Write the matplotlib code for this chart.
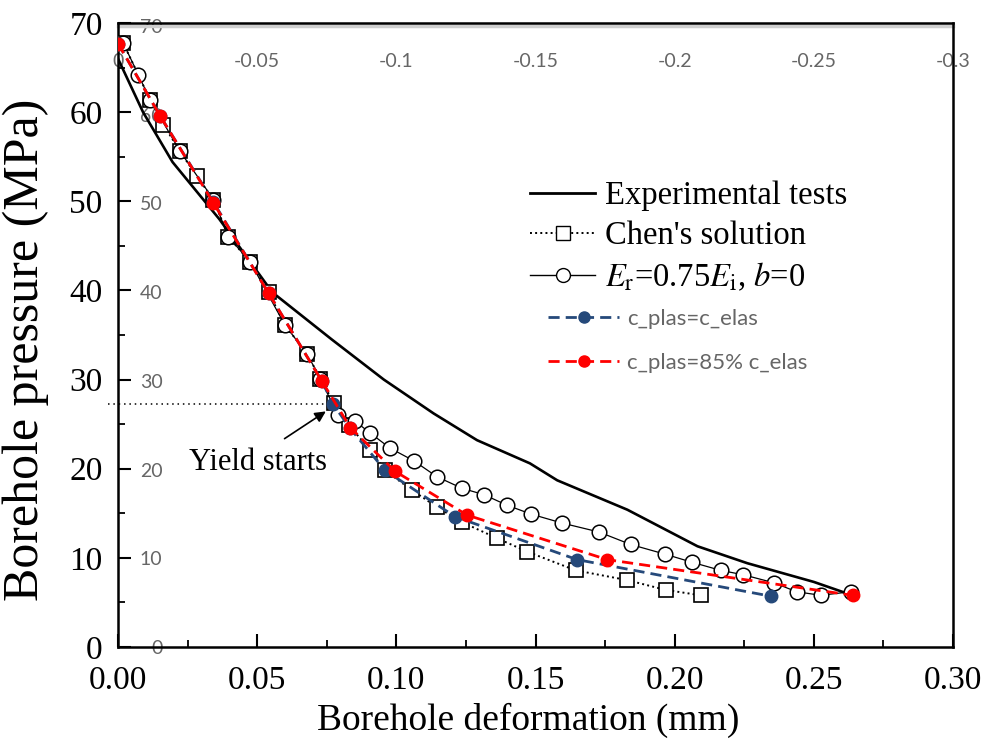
import numpy as np
import matplotlib.pyplot as plt
from matplotlib.lines import Line2D

plt.rcParams['font.family'] = 'Liberation Serif'
plt.rcParams['mathtext.fontset'] = 'stix'

# experimental curve
exp_x = [0.0, 0.009, 0.0196, 0.0364, 0.0554, 0.0768, 0.0955, 0.1134, 0.129,
         0.148, 0.1578, 0.183, 0.2082, 0.2261, 0.25, 0.262]
exp_y = [66.0, 60.0, 54.4, 48.0, 39.8, 34.5, 30.0, 26.2, 23.2,
         20.6, 18.7, 15.4, 11.3, 9.4, 7.3, 6.0]

# Chen's solution (squares)
chen_x = [0.0018, 0.0115, 0.0163, 0.0223, 0.0283, 0.0343, 0.0397, 0.0475, 0.0541,
          0.0600, 0.0679, 0.0727, 0.0775, 0.0829, 0.0906, 0.0960, 0.1056, 0.1146,
          0.1236, 0.1362, 0.1470, 0.1644, 0.1830, 0.1968, 0.2094]
chen_y = [67.8, 61.4, 58.6, 55.6, 52.8, 50.2, 46.0, 43.2, 39.8,
          36.1, 32.9, 30.1, 27.4, 24.9, 22.1, 19.8, 17.6, 15.7,
          14.0, 12.2, 10.7, 8.6, 7.5, 6.4, 5.8]

# Er = 0.75 Ei, b = 0 (open circles)
er_x = [0.0018, 0.0073, 0.0115, 0.0223, 0.0343, 0.0397, 0.0475, 0.0600, 0.0679,
        0.0727, 0.0790, 0.0853, 0.0906, 0.0978, 0.1062, 0.1146, 0.1236, 0.1314,
        0.1398, 0.1485, 0.1596, 0.1728, 0.1842, 0.1967, 0.2063, 0.2165, 0.2247,
        0.2357, 0.2438, 0.2525, 0.2633]
er_y = [67.8, 64.2, 61.4, 55.6, 50.2, 46.0, 43.2, 36.1, 32.9,
        30.1, 26.0, 25.3, 24.0, 22.3, 20.9, 19.1, 17.8, 17.1,
        15.9, 14.9, 13.9, 12.9, 11.5, 10.4, 9.5, 8.6, 8.1,
        7.2, 6.2, 5.8, 6.2]

# c_plas = c_elas
c1_x = [0.0, 0.0151, 0.0343, 0.0541, 0.0733, 0.0772, 0.0832, 0.0960, 0.1212, 0.1650, 0.2345]
c1_y = [67.7, 59.6, 49.9, 39.7, 29.8, 27.3, 24.6, 19.8, 14.6, 9.8, 5.7]

# c_plas = 85% c_elas
c2_x = [0.0, 0.0151, 0.0343, 0.0541, 0.0733, 0.0835, 0.0996, 0.1254, 0.1758, 0.2639]
c2_y = [67.7, 59.6, 49.8, 39.7, 29.8, 24.6, 19.7, 14.8, 9.8, 5.8]

yield_x = 0.0772
yield_p = 27.3

x_ticks = [0.0, 0.05, 0.10, 0.15, 0.20, 0.25, 0.30]
y_ticks = [0, 10, 20, 30, 40, 50, 60, 70]
top_ticks = [0, -0.05, -0.1, -0.15, -0.2, -0.25, -0.3]
top_labels = ['0', '-0.05', '-0.1', '-0.15', '-0.2', '-0.25', '-0.3']

blue = '#25497a'
red = '#ff0000'
grey = '#666666'
dash = (0, (4, 2.2))

fig = plt.figure(figsize=(9.88, 7.52), dpi=100)
L, B, W, H = 118/988, 105/752, 835/988, 624/752

# the grey overlay axis (second chart pasted on top)
ax2 = fig.add_axes([L, B, W, H - 3/752])
ax2.set_xlim(0, -0.3)
ax2.set_ylim(0, 70)
ax2.xaxis.tick_top()
ax2.set_xticks(top_ticks, top_labels)
ax2.set_yticks(y_ticks)
ax2.tick_params(axis='x', length=0, pad=-32, labelsize=14, labelcolor=grey)
ax2.tick_params(axis='y', direction='in', length=0, pad=-32, labelsize=14, labelcolor=grey)
for lbl in ax2.get_xticklabels() + ax2.get_yticklabels():
    lbl.set_family('Lato')
for s in ['left', 'right', 'bottom']:
    ax2.spines[s].set_visible(False)
ax2.spines['top'].set_color('#cfcfcf')
ax2.spines['top'].set_linewidth(2.5)

ax = fig.add_axes([L, B, W, H])
ax.patch.set_visible(False)

ax.plot(exp_x, exp_y, color='k', lw=1.9, zorder=2)
ax.plot(chen_x, chen_y, color='k', ls=':', lw=1.4, marker='s', ms=10,
        mfc='w', mec='k', mew=1.2, zorder=3)
ax.plot(er_x, er_y, color='k', lw=0.9, marker='o', ms=10.5,
        mfc='w', mec='k', mew=1.1, zorder=4)
ax.plot(c1_x, c1_y, color=blue, ls=dash, lw=2, marker='o', ms=9,
        mfc=blue, mec=blue, zorder=5)
ax.plot(c2_x, c2_y, color=red, ls=dash, lw=2, marker='o', ms=9,
        mfc=red, mec=red, zorder=6)

# yield marker
ax.plot([-0.0036, yield_x], [yield_p, yield_p], color='k', ls=(0, (1, 2.5)),
        lw=1.1, clip_on=False, zorder=1)
ax.annotate('', xy=(0.0755, 26.6), xytext=(0.059, 23.2),
            arrowprops=dict(arrowstyle='-|>', color='k', lw=1.2, mutation_scale=16))
ax.text(0.0504, 20.65, 'Yield starts', ha='center', va='center', fontsize=22)

ax.set_xlim(0, 0.30)
ax.set_ylim(0, 70)
ax.set_xticks(x_ticks, ['%.2f' % v for v in x_ticks])
ax.set_yticks(y_ticks)
ax.set_xticks(np.arange(0.025, 0.3, 0.05), minor=True)
ax.set_yticks(np.arange(5, 70, 10), minor=True)
ax.tick_params(which='major', direction='in', length=9.5, width=1.5, labelsize=24)
ax.tick_params(axis='x', which='major', pad=13)
ax.tick_params(axis='y', which='major', pad=11)
ax.tick_params(which='minor', direction='in', length=5, width=1.3)
for s in ax.spines.values():
    s.set_linewidth(1.8)

ax.set_xlabel('Borehole deformation (mm)', fontsize=27)
ax.set_ylabel('Borehole pressure (MPa)', fontsize=36)
ax.xaxis.set_label_coords(0.491, -0.09)
ax.yaxis.set_label_coords(-0.083, 0.476)

h1 = Line2D([], [], color='k', lw=2)
h2 = Line2D([], [], color='k', ls=':', lw=1.4, marker='s', ms=9.5, mfc='w', mec='k')
h3 = Line2D([], [], color='k', lw=1, marker='o', ms=10, mfc='w', mec='k')
leg1 = ax.legend([h1, h2, h3],
                 ['Experimental tests', "Chen's solution",
                  r'$E_\mathrm{r}$=0.75$E_\mathrm{i}$, $b$=0'],
                 loc='center left', bbox_to_anchor=(530/988, 1 - 237/752),
                 bbox_transform=fig.transFigure, frameon=False, fontsize=23.5,
                 handlelength=2.0, handletextpad=0.3, labelspacing=0.3,
                 borderpad=0, borderaxespad=0, numpoints=1)
ax.add_artist(leg1)

h4 = Line2D([], [], color=blue, ls=dash, lw=2, marker='o', ms=8, mfc=blue, mec=blue)
h5 = Line2D([], [], color=red, ls=dash, lw=2, marker='o', ms=8, mfc=red, mec=red)
ax.legend([h4, h5], ['c_plas=c_elas', 'c_plas=85% c_elas'],
          loc='center left', bbox_to_anchor=(548/988, 1 - 341/752),
          bbox_transform=fig.transFigure, frameon=False,
          prop={'family': 'Lato', 'size': 16}, labelcolor=grey,
          handlelength=3.2, handletextpad=0.35, labelspacing=1.1,
          borderpad=0, borderaxespad=0, numpoints=1)

fig.savefig('out.png', dpi=100)
